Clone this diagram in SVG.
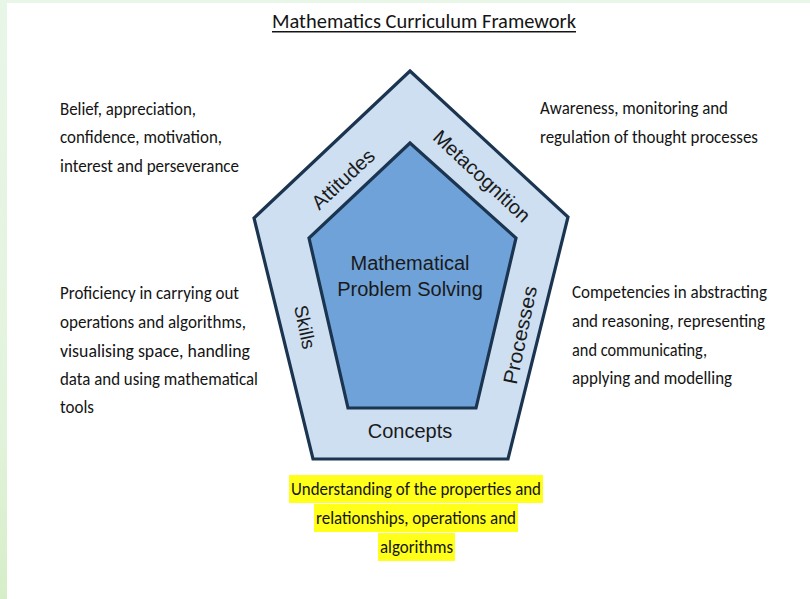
<svg xmlns="http://www.w3.org/2000/svg" width="810" height="599" viewBox="0 0 810 599">
<defs>
<style>
.c{font-family:Carlito,"Liberation Sans Narrow","Liberation Sans",sans-serif;font-size:18.5px;fill:#141414}
.a{font-family:"Liberation Sans",Arial,sans-serif;fill:#1a1a1a}
.hl{fill:#ffff1a}
.pent{stroke:#1b3450;stroke-width:3.2;stroke-linejoin:miter}
</style>
<linearGradient id="g" x1="0" y1="0" x2="0" y2="1">
<stop offset="0" stop-color="#e8f6e8"/>
<stop offset="0.7" stop-color="#e2f3dc"/>
<stop offset="1" stop-color="#d6eec8"/>
</linearGradient>
</defs>
<rect width="810" height="599" fill="url(#g)"/>
<rect x="7" y="3" width="803" height="596" fill="#ffffff"/>

<g id="title">
<text class="c" x="424" y="28" text-anchor="middle" textLength="304" lengthAdjust="spacingAndGlyphs" style="font-size:21px">Mathematics Curriculum Framework</text>
<rect x="272" y="31" width="304" height="1.5" fill="#141414"/>
</g>

<g id="pentagon-outer">
<polygon class="pent" points="410,71 568,217 508,459 313,459 254,218" fill="#cddff1"/>
</g>
<g id="pentagon-inner">
<polygon class="pent" points="410,143 516,238 476,408 348,408 309,238" fill="#6fa2d8"/>
<text class="a" x="410" y="270" text-anchor="middle" font-size="20">Mathematical</text>
<text class="a" x="410" y="296" text-anchor="middle" font-size="20">Problem Solving</text>
</g>

<g id="label-attitudes">
<text class="a" transform="translate(343,179) rotate(-43)" text-anchor="middle" dy="0.35em" font-size="20">Attitudes</text>
</g>
<g id="label-metacognition">
<text class="a" transform="translate(482,176) rotate(43)" text-anchor="middle" dy="0.35em" font-size="20">Metacognition</text>
</g>
<g id="label-skills">
<text class="a" transform="translate(305,327) rotate(78)" text-anchor="middle" dy="0.35em" font-size="19">Skills</text>
</g>
<g id="label-processes">
<text class="a" transform="translate(520,335) rotate(-78)" text-anchor="middle" dy="0.35em" font-size="20" textLength="100" lengthAdjust="spacingAndGlyphs">Processes</text>
</g>
<g id="label-concepts">
<text class="a" x="410" y="438" text-anchor="middle" font-size="20">Concepts</text>
</g>

<g id="desc-attitudes">
<text class="c" x="60" y="115" textLength="136" lengthAdjust="spacingAndGlyphs">Belief, appreciation,</text>
<text class="c" x="60" y="143" textLength="162" lengthAdjust="spacingAndGlyphs">confidence, motivation,</text>
<text class="c" x="60" y="172" textLength="179" lengthAdjust="spacingAndGlyphs">interest and perseverance</text>
</g>
<g id="desc-metacognition">
<text class="c" x="540" y="114" textLength="188" lengthAdjust="spacingAndGlyphs">Awareness, monitoring and</text>
<text class="c" x="540" y="143" textLength="218" lengthAdjust="spacingAndGlyphs">regulation of thought processes</text>
</g>
<g id="desc-skills">
<text class="c" x="60" y="299" textLength="179" lengthAdjust="spacingAndGlyphs">Proficiency in carrying out</text>
<text class="c" x="60" y="328" textLength="186" lengthAdjust="spacingAndGlyphs">operations and algorithms,</text>
<text class="c" x="60" y="357" textLength="190" lengthAdjust="spacingAndGlyphs">visualising space, handling</text>
<text class="c" x="60" y="385" textLength="198" lengthAdjust="spacingAndGlyphs">data and using mathematical</text>
<text class="c" x="60" y="413" textLength="34" lengthAdjust="spacingAndGlyphs">tools</text>
</g>
<g id="desc-processes">
<text class="c" x="572" y="298" textLength="195" lengthAdjust="spacingAndGlyphs">Competencies in abstracting</text>
<text class="c" x="572" y="327" textLength="193" lengthAdjust="spacingAndGlyphs">and reasoning, representing</text>
<text class="c" x="572" y="356" textLength="135" lengthAdjust="spacingAndGlyphs">and communicating,</text>
<text class="c" x="572" y="384" textLength="160" lengthAdjust="spacingAndGlyphs">applying and modelling</text>
</g>
<g id="desc-concepts">
<rect class="hl" x="289" y="475" width="254" height="28"/>
<rect class="hl" x="314" y="504" width="204" height="28"/>
<rect class="hl" x="378" y="533" width="77" height="28"/>
<text class="c" x="291" y="495" textLength="250" lengthAdjust="spacingAndGlyphs">Understanding of the properties and</text>
<text class="c" x="316" y="524" textLength="200" lengthAdjust="spacingAndGlyphs">relationships, operations and</text>
<text class="c" x="380" y="553" textLength="73" lengthAdjust="spacingAndGlyphs">algorithms</text>
</g>
</svg>
